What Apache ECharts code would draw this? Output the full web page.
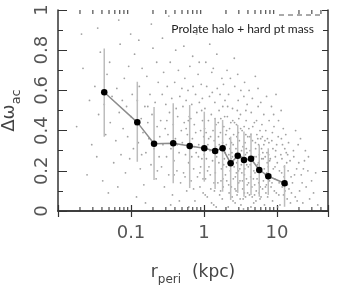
<!DOCTYPE html>
<html><head><meta charset="utf-8">
<script src="https://cdn.jsdelivr.net/npm/echarts@6/dist/echarts.min.js"></script>
<style>html,body{margin:0;padding:0;background:#fff}#c{width:339px;height:285px}</style>
</head><body><div id="c"></div>
<script>
// Binned means (black dots) and their spread (error bars)
const binR  = [0.043, 0.122, 0.207, 0.379, 0.637, 1.01, 1.42, 1.80, 2.32, 2.90, 3.53, 4.41, 5.72, 7.60, 12.7];
const binDw = [0.591, 0.441, 0.335, 0.337, 0.323, 0.312, 0.299, 0.312, 0.237, 0.275, 0.254, 0.260, 0.204, 0.173, 0.138];
const errHi = [0.809, 0.643, 0.518, 0.536, 0.527, 0.494, 0.463, 0.453, 0.370, 0.428, 0.395, 0.387, 0.328, 0.312, 0.229];
const errLo = [0.370, 0.245, 0.154, 0.138, 0.114, 0.146, 0.110, 0.096, 0.055, 0.090, 0.071, 0.080, 0.071, 0.080, 0.021];

// Individual orbits (grey dots)
const scatterPts = [
[0.018,0.42],[0.022,0.71],[0.025,0.18],[0.027,0.55],[0.029,0.33],[0.021,0.88],
[0.032,0.62],[0.034,0.27],[0.036,0.48],[0.038,0.79],[0.041,0.15],[0.043,0.53],[0.045,0.38],[0.047,0.68],[0.049,0.09],[0.052,0.44],[0.055,0.57],[0.058,0.24],[0.035,0.91],[0.051,0.74],
[0.062,0.35],[0.064,0.61],[0.066,0.12],[0.069,0.49],[0.071,0.83],[0.073,0.28],[0.076,0.55],[0.078,0.41],[0.081,0.66],[0.084,0.19],[0.087,0.52],[0.09,0.37],[0.093,0.72],[0.096,0.26],[0.1,0.47],[0.104,0.58],[0.108,0.31],[0.112,0.78],[0.116,0.43],[0.119,0.07],[0.068,0.95],[0.099,0.88],
[0.122,0.55],[0.126,0.34],[0.13,0.62],[0.134,0.21],[0.138,0.46],[0.142,0.71],[0.146,0.39],[0.15,0.13],[0.155,0.52],[0.16,0.29],[0.165,0.67],[0.17,0.44],[0.176,0.36],[0.182,0.58],[0.188,0.23],[0.194,0.48],[0.2,0.81],[0.207,0.31],[0.214,0.54],[0.221,0.16],[0.228,0.42],[0.236,0.64],[0.243,0.27],[0.248,0.37],[0.128,0.85],[0.158,0.04],[0.19,0.93],[0.225,0.74],
[0.255,0.45],[0.262,0.22],[0.268,0.58],[0.274,0.33],[0.28,0.69],[0.287,0.12],[0.294,0.41],[0.3,0.53],[0.307,0.27],[0.314,0.62],[0.321,0.38],[0.329,0.18],[0.337,0.49],[0.345,0.74],[0.353,0.31],[0.362,0.56],[0.37,0.08],[0.379,0.43],[0.388,0.25],[0.397,0.64],[0.406,0.36],[0.416,0.51],[0.426,0.2],[0.436,0.47],[0.446,0.7],[0.456,0.29],[0.467,0.57],[0.478,0.14],[0.489,0.4],[0.498,0.61],[0.27,0.86],[0.33,0.97],[0.41,0.8],[0.46,0.05],[0.35,0.03],
[0.505,0.34],[0.515,0.52],[0.525,0.19],[0.536,0.44],[0.547,0.66],[0.558,0.28],[0.569,0.55],[0.58,0.1],[0.592,0.38],[0.604,0.6],[0.616,0.24],[0.628,0.47],[0.641,0.72],[0.654,0.31],[0.667,0.15],[0.68,0.53],[0.694,0.36],[0.708,0.62],[0.722,0.21],[0.737,0.43],[0.752,0.05],[0.767,0.58],[0.782,0.29],[0.798,0.49],[0.814,0.17],[0.83,0.68],[0.847,0.33],[0.864,0.54],[0.881,0.12],[0.899,0.4],[0.917,0.63],[0.935,0.26],[0.954,0.45],[0.973,0.09],[0.992,0.37],[0.53,0.82],[0.62,0.02],[0.7,0.77],[0.79,0.88],[0.86,0.74],[0.95,0.56],[0.57,0.41],[0.74,0.32],[0.9,0.22],[0.66,0.46],
[1.01,0.28],[1.03,0.51],[1.05,0.16],[1.07,0.39],[1.09,0.62],[1.11,0.07],[1.13,0.33],[1.15,0.45],[1.17,0.22],[1.19,0.57],[1.21,0.3],[1.24,0.11],[1.26,0.48],[1.28,0.69],[1.31,0.25],[1.33,0.4],[1.36,0.03],[1.38,0.35],[1.41,0.54],[1.43,0.19],[1.46,0.43],[1.49,0.27],[1.52,0.61],[1.55,0.14],[1.58,0.37],[1.61,0.5],[1.64,0.08],[1.67,0.31],[1.7,0.46],[1.73,0.21],[1.76,0.66],[1.8,0.34],[1.83,0.12],[1.87,0.42],[1.9,0.26],[1.94,0.55],[1.97,0.18],[1.99,0.38],[1.06,0.74],[1.2,0.83],[1.34,0.71],[1.5,0.78],[1.66,0.58],[1.85,0.63],[1.12,0.2],[1.27,0.04],[1.44,0.32],[1.6,0.24],[1.78,0.06],[1.95,0.29],[1.02,0.41],[1.39,0.1],[1.71,0.15],[1.92,0.47],[1.16,0.36],[1.57,0.44],[1.81,0.52],[1.3,0.59],[1.47,0.02],[1.68,0.39],
[2.02,0.33],[2.05,0.15],[2.09,0.47],[2.13,0.24],[2.17,0.58],[2.21,0.09],[2.25,0.36],[2.29,0.2],[2.33,0.44],[2.37,0.12],[2.41,0.29],[2.46,0.51],[2.5,0.05],[2.55,0.38],[2.59,0.22],[2.64,0.62],[2.69,0.17],[2.74,0.31],[2.79,0.43],[2.84,0.08],[2.89,0.26],[2.94,0.55],[2.99,0.14],[3.05,0.35],[3.1,0.21],[3.16,0.48],[3.21,0.03],[3.27,0.3],[3.33,0.4],[3.39,0.11],[3.45,0.25],[3.52,0.57],[3.58,0.18],[3.65,0.34],[3.71,0.07],[3.78,0.45],[3.85,0.23],[3.92,0.13],[3.98,0.37],[2.07,0.7],[2.3,0.66],[2.6,0.76],[2.9,0.68],[3.2,0.6],[3.6,0.64],[3.9,0.53],[2.15,0.02],[2.45,0.27],[2.75,0.1],[3.0,0.46],[3.3,0.19],[3.7,0.28],[2.24,0.41],[2.52,0.16],[2.82,0.37],[3.13,0.06],[3.42,0.32],[3.82,0.16],[2.11,0.52],[2.38,0.34],[2.67,0.04],[2.97,0.2],[3.25,0.23],[3.55,0.42],[3.88,0.29],[2.48,0.45],[2.86,0.5],[3.48,0.01],[3.75,0.5],[2.19,0.28],
[4.05,0.22],[4.12,0.41],[4.2,0.08],[4.28,0.3],[4.36,0.17],[4.44,0.49],[4.53,0.12],[4.62,0.35],[4.71,0.25],[4.8,0.04],[4.9,0.44],[5.0,0.19],[5.1,0.31],[5.2,0.1],[5.3,0.38],[5.41,0.23],[5.52,0.52],[5.63,0.14],[5.74,0.28],[5.86,0.06],[5.98,0.36],[6.1,0.2],[6.22,0.43],[6.35,0.11],[6.48,0.26],[6.61,0.33],[6.74,0.03],[6.88,0.18],[7.02,0.4],[7.16,0.13],[7.3,0.29],[7.45,0.07],[7.6,0.22],[7.75,0.34],[7.9,0.15],[4.15,0.6],[4.6,0.56],[5.05,0.67],[5.5,0.61],[6.0,0.54],[6.6,0.48],[7.2,0.57],[7.8,0.45],[4.4,0.02],[4.85,0.27],[5.25,0.45],[5.7,0.09],[6.15,0.31],[6.7,0.21],[7.35,0.24],[4.25,0.37],[4.75,0.16],[5.15,0.05],[5.6,0.33],[6.3,0.37],[6.9,0.27],[7.5,0.17],[4.95,0.13],[5.85,0.4],[7.05,0.09],
[8.1,0.26],[8.3,0.12],[8.5,0.35],[8.7,0.05],[8.9,0.21],[9.1,0.42],[9.3,0.16],[9.6,0.3],[9.8,0.09],[10.1,0.24],[10.4,0.37],[10.7,0.14],[11.0,0.03],[11.3,0.28],[11.6,0.19],[11.9,0.33],[12.3,0.08],[12.6,0.22],[13.0,0.15],[13.4,0.29],[13.8,0.06],[14.2,0.2],[14.6,0.11],[15.1,0.25],[15.6,0.17],[8.4,0.52],[9.0,0.48],[9.7,0.58],[10.5,0.45],[11.4,0.5],[12.2,0.41],[13.2,0.38],[14.4,0.34],[8.8,0.31],[10.2,0.02],[11.8,0.12],[13.6,0.24],[15.3,0.04],[9.4,0.22],[12.8,0.31],
[16.3,0.14],[17.0,0.27],[17.8,0.07],[18.6,0.21],[19.5,0.33],[20.4,0.1],[21.5,0.18],[22.6,0.04],[23.8,0.25],[25.1,0.12],[26.5,0.2],[28.0,0.06],[29.8,0.15],[31.7,0.09],[33.9,0.19],[36.2,0.03],[18.0,0.4],[21.0,0.36],[24.5,0.3],[27.0,0.27],
[0.72,0.11],[0.84,0.27],[0.97,0.16],[1.08,0.26],[1.23,0.37],[1.37,0.14],[1.53,0.29],[1.69,0.1],[1.86,0.23],[2.04,0.4],[2.18,0.13],[2.34,0.26],[2.51,0.33],[2.66,0.11],[2.81,0.24],[2.96,0.39],[3.11,0.15],[3.29,0.27],[3.44,0.06],[3.62,0.21],[3.8,0.31],[3.96,0.09],[4.18,0.27],[4.39,0.38],[4.58,0.07],[4.82,0.2],[5.07,0.34],[5.33,0.16],[5.58,0.24],[5.9,0.12],[6.18,0.26],[6.52,0.15],[6.84,0.35],[7.25,0.19],[7.68,0.28],[8.2,0.18],[8.65,0.39],[9.2,0.1],[9.9,0.33],[10.8,0.2],[11.7,0.26],[12.9,0.1],[14.0,0.28],[15.8,0.09],[17.4,0.18],[19.9,0.24],[22.1,0.14],
[1.04,0.08],[1.22,0.18],[1.42,0.46],[1.62,0.33],[1.82,0.16],[2.03,0.22],[2.27,0.31],[2.43,0.07],[2.62,0.44],[2.78,0.19],[3.02,0.28],[3.18,0.41],[3.36,0.15],[3.57,0.09],[3.74,0.38],[4.08,0.14],[4.31,0.23],[4.66,0.42],[4.93,0.08],[5.18,0.27],[5.46,0.36],[5.78,0.19],[6.05,0.07],[6.4,0.29],[6.95,0.12],[7.4,0.36],[7.95,0.25],[8.55,0.14],[9.5,0.27],[10.6,0.08],[11.5,0.36],[12.5,0.17],[13.9,0.13],[16.8,0.3],[18.9,0.05],[23.0,0.21],[0.55,0.17],[0.61,0.45],[0.68,0.27],[0.77,0.39],[0.88,0.19],[0.93,0.5],[0.43,0.33],[0.39,0.18],[0.31,0.45],[0.23,0.2],[0.17,0.52],[0.14,0.28]
];

const xMin = 0.01, xMax = 50;
const xTickLabels = ['0.1', '1', '10'];
const xMinorTicks = [0.02,0.03,0.04,0.05,0.06,0.07,0.08,0.09,0.2,0.3,0.4,0.5,0.6,0.7,0.8,0.9,2,3,4,5,6,7,8,9,20,30,40];
const yTickLabels = ['0', '0.2', '0.4', '0.6', '0.8', '1'];
const annotation = 'Prolate halo + hard pt mass';

const axisColor = '#333';
const chart = echarts.init(document.getElementById('c'), null, {renderer: 'canvas'});

const lbl = v => String(parseFloat(Number(v).toPrecision(3)));

const minorMarks = (atY, off) => ({
  type: 'scatter', silent: true, z: 5,
  data: xMinorTicks.map(v => [v, atY]),
  symbol: 'rect', symbolSize: [1.3, 4], symbolOffset: [0, off],
  itemStyle: {color: axisColor}
});

chart.setOption({
  animation: false,
  backgroundColor: '#fff',
  grid: {left: 58, right: 11, top: 10, bottom: 74, containLabel: false, outerBoundsMode: 'none'},
  xAxis: [{
    type: 'log', logBase: 10, min: xMin, max: xMax, position: 'bottom',
    axisLine: {show: true, lineStyle: {color: axisColor, width: 1.5}},
    axisTick: {show: true, inside: true, length: 6, lineStyle: {color: axisColor, width: 1.2}},
    splitLine: {show: false},
    axisLabel: {
      margin: 13, color: '#555', fontSize: 18, fontFamily: 'DejaVu Sans',
      formatter: v => { const s = lbl(v); return xTickLabels.includes(s) ? s : ''; }
    },
    name: '{r|r}{s|peri}{n|  (kpc)}', nameLocation: 'middle', nameGap: 49,
    nameTextStyle: {
      rich: {
        r: {fontSize: 17, fontFamily: 'DejaVu Sans', color: '#444'},
        s: {fontSize: 12, fontFamily: 'DejaVu Sans', color: '#444', padding: [14, 0, 0, 0]},
        n: {fontSize: 17, fontFamily: 'DejaVu Sans', color: '#444'}
      }
    }
  }, {
    type: 'log', logBase: 10, min: xMin, max: xMax, position: 'top',
    axisLine: {show: true, lineStyle: {color: axisColor, width: 1.5}},
    axisTick: {show: true, inside: true, length: 6, lineStyle: {color: axisColor, width: 1.2}},
    axisLabel: {show: false}, splitLine: {show: false}
  }],
  yAxis: [{
    type: 'value', min: 0, max: 1, interval: 0.2, position: 'left',
    axisLine: {show: true, lineStyle: {color: axisColor, width: 1.5}},
    axisTick: {show: true, inside: true, length: 9, lineStyle: {color: axisColor, width: 1}},
    minorTick: {show: true, splitNumber: 2, length: 5, lineStyle: {color: axisColor, width: 1}},
    splitLine: {show: false},
    axisLabel: {
      rotate: 90, margin: 7, color: '#555', fontSize: 18, fontFamily: 'DejaVu Sans',
      formatter: v => { const s = lbl(v); return yTickLabels.includes(s) ? s : ''; }
    },
    name: '{a|Δω}{b|ac}', nameLocation: 'middle', nameGap: 35, nameRotate: 90,
    nameTextStyle: {
      rich: {
        a: {fontSize: 18, fontFamily: 'DejaVu Sans', color: '#444'},
        b: {fontSize: 13, fontFamily: 'DejaVu Sans', color: '#444', padding: [14, 0, 0, 0]}
      }
    }
  }, {
    type: 'value', min: 0, max: 1, interval: 0.2, position: 'right',
    axisLine: {show: true, lineStyle: {color: axisColor, width: 1.5}},
    axisTick: {show: true, inside: true, length: 6, lineStyle: {color: axisColor, width: 1}},
    minorTick: {show: true, splitNumber: 2, length: 5, lineStyle: {color: axisColor, width: 1}},
    splitLine: {show: false}, axisLabel: {show: false}
  }],
  graphic: [
    {type: 'text', right: 25, top: 23, style: {text: annotation, fontSize: 12, fontFamily: 'Lato', fill: '#222', textAlign: 'right'}},
    {type: 'line', shape: {x1: 279, y1: 15, x2: 323, y2: 15}, style: {stroke: '#555', lineWidth: 1, lineDash: [5, 4]}}
  ],
  series: [
    {
      type: 'scatter', name: 'orbits', data: scatterPts, symbol: 'circle', symbolSize: 1.8,
      itemStyle: {color: '#8a8a8a'}, silent: true, z: 1
    },
    {
      type: 'custom', name: 'spread', z: 2, silent: true,
      data: binR.map((r, i) => [r, errLo[i], errHi[i]]),
      encode: {x: 0, y: [1, 2]},
      renderItem: (params, api) => {
        const x = api.value(0);
        const p1 = api.coord([x, api.value(1)]), p2 = api.coord([x, api.value(2)]);
        return {type: 'line', shape: {x1: p1[0], y1: p1[1], x2: p2[0], y2: p2[1]},
                style: {stroke: '#bdbdbd', lineWidth: 1.5}};
      }
    },
    {
      type: 'line', name: 'mean', z: 3,
      data: binR.map((r, i) => [r, binDw[i]]),
      symbol: 'circle', symbolSize: 6.5, showSymbol: true,
      itemStyle: {color: '#000'},
      lineStyle: {color: '#8c8c8c', width: 1.5}
    },
    minorMarks(0, -2),
    minorMarks(1, 2)
  ]
});
</script>
</body></html>
